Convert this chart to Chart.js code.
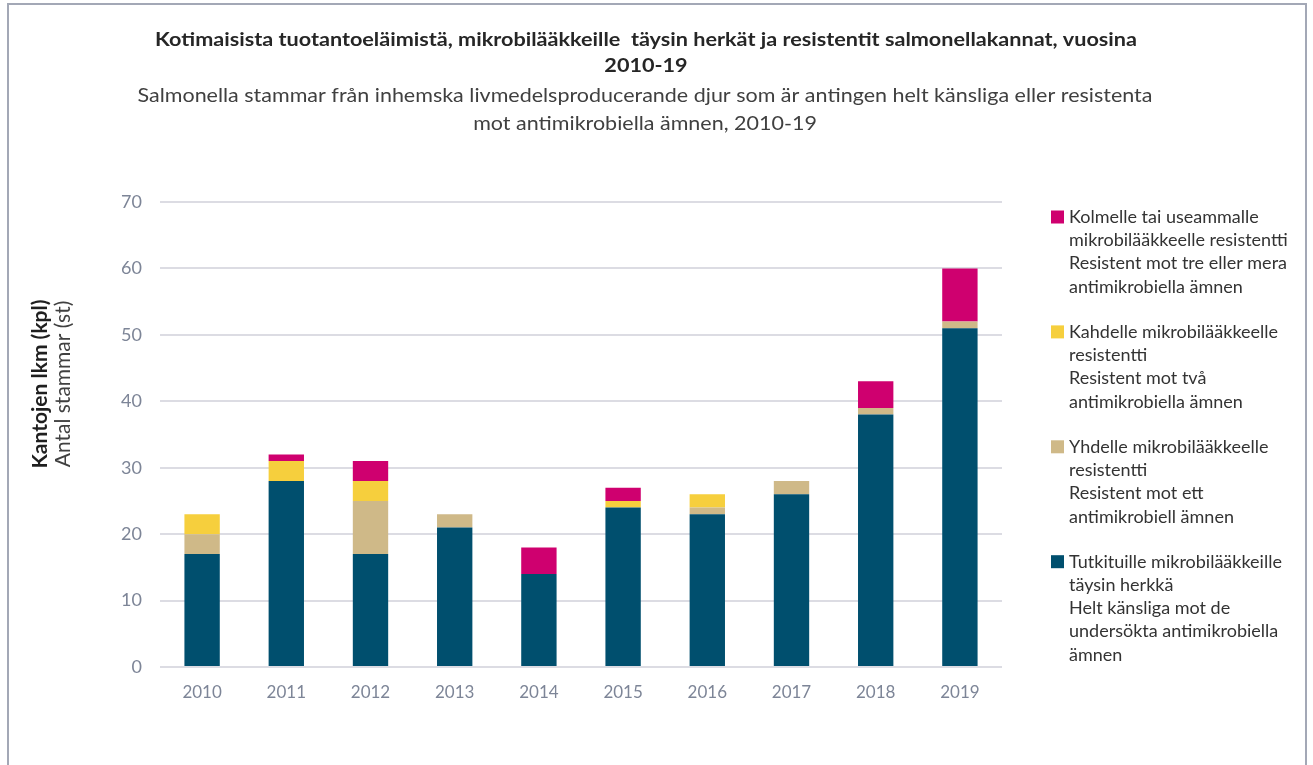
<!DOCTYPE html>
<html>
<head>
<meta charset="utf-8">
<script src="https://cdn.jsdelivr.net/npm/chart.js@4"></script>
<style>
  html, body { margin: 0; padding: 0; background: #fff; }
  #wrap { position: relative; width: 1313px; height: 765px; overflow: hidden; }
  #frame { position: absolute; left: 7px; top: 3px; width: 1300px; height: 800px; border: 2px solid #a3a8b6; box-sizing: border-box; pointer-events: none; }
  canvas { position: absolute; left: 0; top: 0; }
</style>
</head>
<body>
<div id="wrap">
  <canvas id="c" width="1313" height="765"></canvas>
  <div id="frame"></div>
</div>
<script>
const years = ['2010','2011','2012','2013','2014','2015','2016','2017','2018','2019'];
const susceptible = [17, 28, 17, 21, 14, 24, 23, 26, 38, 51];
const resistOne   = [3, 0, 8, 2, 0, 0, 1, 2, 1, 1];
const resistTwo   = [3, 3, 3, 0, 0, 1, 2, 0, 0, 0];
const resistThree = [0, 1, 3, 0, 4, 2, 0, 0, 4, 8];

const titleLines = ['Kotimaisista tuotantoeläimistä, mikrobilääkkeille  täysin herkät ja resistentit salmonellakannat, vuosina', '2010-19'];
const subtitleLines = ['Salmonella stammar från inhemska livmedelsproducerande djur som är antingen helt känsliga eller resistenta', 'mot antimikrobiella ämnen, 2010-19'];
const yTitleBold = 'Kantojen lkm (kpl)';
const yTitleNormal = 'Antal stammar (st)';

const labelSusceptible = ['Tutkituille mikrobilääkkeille', 'täysin herkkä', 'Helt känsliga mot de', 'undersökta antimikrobiella', 'ämnen'];
const labelOne = ['Yhdelle mikrobilääkkeelle', 'resistentti', 'Resistent mot ett', 'antimikrobiell ämnen'];
const labelTwo = ['Kahdelle mikrobilääkkeelle', 'resistentti', 'Resistent mot två', 'antimikrobiella ämnen'];
const labelThree = ['Kolmelle tai useammalle', 'mikrobilääkkeelle resistentti', 'Resistent mot tre eller mera', 'antimikrobiella ämnen'];

const FONT = 'Lato, "Open Sans", sans-serif';

function drawScaledLines(ctx, lines, cx, ys, targetWidth) {
  const sx = targetWidth / ctx.measureText(lines[0]).width;
  lines.forEach((t, i) => {
    ctx.save();
    ctx.translate(cx, ys[i]);
    ctx.scale(sx, 1);
    ctx.fillText(t, 0, 0);
    ctx.restore();
  });
}

const decor = {
  id: 'decor',
  afterDraw(chart) {
    const ctx = chart.ctx;
    ctx.save();
    ctx.textAlign = 'center';
    ctx.textBaseline = 'middle';
    ctx.fillStyle = '#262626';
    ctx.font = 'bold 19px ' + FONT;
    drawScaledLines(ctx, titleLines, 646, [40, 66], 982);
    ctx.fillStyle = '#404040';
    ctx.font = '19px ' + FONT;
    drawScaledLines(ctx, subtitleLines, 645, [96, 124], 1015);
    // y title
    ctx.save();
    ctx.translate(40, 384);
    ctx.rotate(-Math.PI / 2);
    ctx.fillStyle = '#1f1f1f';
    ctx.font = 'bold 21px ' + FONT;
    ctx.fillText(yTitleBold, 0, 0);
    ctx.restore();
    ctx.save();
    ctx.translate(63, 384);
    ctx.rotate(-Math.PI / 2);
    ctx.fillStyle = '#404040';
    ctx.font = '21px ' + FONT;
    ctx.fillText(yTitleNormal, 0, 0);
    ctx.restore();
    // legend
    const ds = chart.data.datasets.slice().reverse();
    let y = 217;
    ctx.textAlign = 'left';
    ctx.font = '18px ' + FONT;
    ds.forEach((d) => {
      ctx.fillStyle = d.backgroundColor;
      ctx.fillRect(1051, y - 6.5, 13, 13);
      ctx.fillStyle = '#333333';
      d.legendLines.forEach((line, i) => {
        ctx.fillText(line, 1069, y + i * 23.3);
      });
      y += (d.legendLines.length - 1) * 23.3 + 45;
    });
    ctx.restore();
  }
};

new Chart(document.getElementById('c'), {
  type: 'bar',
  data: {
    labels: years,
    datasets: [
      { label: labelSusceptible.join(' '), legendLines: labelSusceptible, data: susceptible, backgroundColor: '#004f6e' },
      { label: labelOne.join(' '), legendLines: labelOne, data: resistOne, backgroundColor: '#cfb988' },
      { label: labelTwo.join(' '), legendLines: labelTwo, data: resistTwo, backgroundColor: '#f6cf3d' },
      { label: labelThree.join(' '), legendLines: labelThree, data: resistThree, backgroundColor: '#cf006f' }
    ]
  },
  options: {
    responsive: false,
    animation: false,
    maintainAspectRatio: false,
    layout: { padding: { left: 0, right: 311, top: 202, bottom: 0 } },
    plugins: {
      legend: { display: false },
      title: { display: false },
      tooltip: { enabled: false }
    },
    datasets: { bar: { categoryPercentage: 1.0, barPercentage: 0.42 } },
    scales: {
      x: {
        stacked: true,
        grid: { display: false, drawTicks: false },
        border: { display: false },
        ticks: { color: '#7d8597', font: { size: 17, family: FONT }, padding: 15 },
        afterFit(scale) { scale.height = 98; }
      },
      y: {
        stacked: true,
        min: 0, max: 70,
        ticks: { stepSize: 10, color: '#7d8597', font: { size: 18, family: FONT }, padding: 18 },
        grid: { color: '#dcdce3', lineWidth: 2, drawTicks: false },
        border: { display: false },
        afterFit(scale) { scale.width = 160; }
      }
    }
  },
  plugins: [decor]
});
</script>
</body>
</html>
